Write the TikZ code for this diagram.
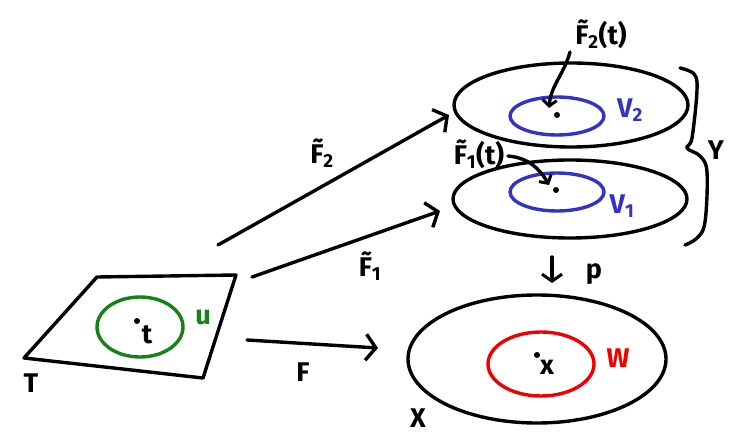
\documentclass[tikz,border=0pt]{standalone}
\usepackage{fontspec}
\setsansfont{Fira Sans}
\usetikzlibrary{arrows.meta,shapes.geometric}
\definecolor{hgreen}{RGB}{20,130,20}
\definecolor{hblue}{RGB}{50,50,200}
\definecolor{hred}{RGB}{240,0,0}
\begin{document}
\begin{tikzpicture}[x=1pt,y=-1pt, line width=3.4pt, line cap=round, line join=round,
  lbl/.style={font=\sffamily\bfseries\fontsize{27}{30}\selectfont, inner sep=0pt},
  oval/.style={draw, ellipse, inner sep=0pt},
  bigarr/.style={-{Straight Barb[length=10pt,width=26pt,line width=3.4pt]}},
  smallarr/.style={-{Straight Barb[length=6pt,width=14pt,line width=3pt]}},
  pt/.style={fill, circle, inner sep=0pt, minimum size=6pt}]
\useasboundingbox (0,0) rectangle (738,438);
% parallelogram T
\draw (24,358) coordinate (Ta) -- (97,277) coordinate (Tb) -- (236,275) coordinate (Tc) -- (203,378) coordinate (Td) -- cycle;
\node[oval, draw=hgreen, minimum width=86pt, minimum height=60pt] (U) at (140,327) {};
\node[pt] (tdot) at (137,321) {};
\node[lbl] (tl) at (147,335) {t};
\node[lbl, text=hgreen] (ul) at (203,318) {u};
\node[lbl] (Tl) at (31,383) {T};
% Y sheets
\node[oval, minimum width=234pt, minimum height=84pt] (S2) at (571,105) {};
\node[oval, minimum width=234pt, minimum height=78pt] (S1) at (570,199) {};
\node[oval, draw=hblue, minimum width=94pt, minimum height=38pt] (V2) at (557,116) {};
\node[oval, draw=hblue, minimum width=94pt, minimum height=38pt] (V1) at (557,192) {};
\node[pt] (d2) at (557,115) {};
\node[pt] (d1) at (556,190) {};
\node[lbl, text=hblue] (v2l) at (630,110) {V\textsubscript{2}};
\node[lbl, text=hblue] (v1l) at (622,206) {V\textsubscript{1}};
\node[lbl] (f2t) at (601,34) {\~F\textsubscript{2}(t)};
\node[lbl] (f1t) at (479,154) {\~F\textsubscript{1}(t)};
\coordinate (a2s) at (570,52);
\coordinate (a2e) at (549,108);
\coordinate (a1s) at (508,156);
\coordinate (a1e) at (549,185);
\draw[smallarr] (a2s) to[out=-105,in=85] (a2e);
\draw[smallarr] (a1s) to[out=-5,in=120] (a1e);
% brace
\draw plot[smooth, tension=0.6] coordinates {(680,68) (694,74) (697,90) (692,138) (687,148) (700,156) (707,172) (705,222) (697,238) (685,245)};
\node[lbl] (Yl) at (716,150) {Y};
% X
\node[oval, minimum width=258pt, minimum height=128pt] (X) at (537,359) {};
\node[oval, draw=hred, minimum width=106pt, minimum height=64pt] (W) at (541,364) {};
\node[pt] (xdot) at (537,355) {};
\node[lbl] (xl) at (547,367) {x};
\node[lbl, text=hred] (wl) at (618,358) {W};
\node[lbl] (Xl) at (418,418) {X};
% p arrow
\coordinate (ps) at (552,257);
\coordinate (pe) at (552,283);
\draw[-{Straight Barb[length=7pt,width=20pt,line width=3pt]}] (ps) -- (pe);
\node[lbl] (pl) at (594,274) {p};
% main arrows
\coordinate (f2s) at (218,245);
\coordinate (f2e) at (449,115);
\coordinate (f1s) at (252,277);
\coordinate (f1e) at (440,211);
\coordinate (fs) at (247,340);
\coordinate (fe) at (378,348);
\draw[bigarr] (f2s) -- (f2e);
\draw[bigarr] (f1s) -- (f1e);
\draw[bigarr] (fs) -- (fe);
\node[lbl] (F2l) at (322,153) {\~F\textsubscript{2}};
\node[lbl] (F1l) at (370,266) {\~F\textsubscript{1}};
\node[lbl] (Fl) at (303,372) {F};
\end{tikzpicture}
\end{document}
